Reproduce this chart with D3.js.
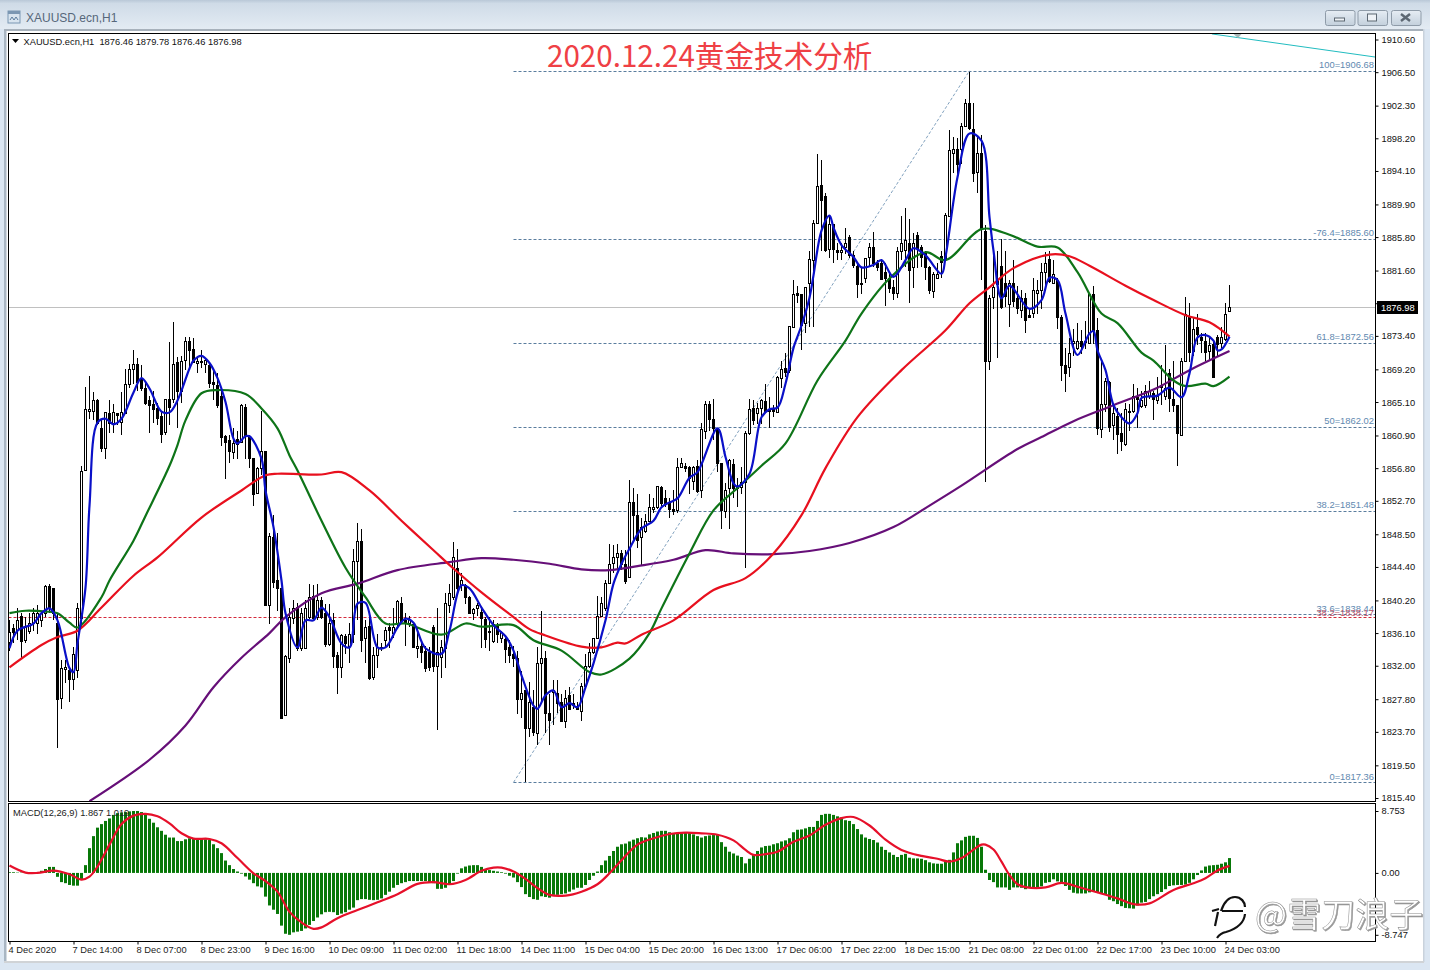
<!DOCTYPE html>
<html>
<head>
<meta charset="utf-8">
<script src="https://cdnjs.cloudflare.com/ajax/libs/d3/7.8.5/d3.min.js"></script>
<style>
  html, body { margin: 0; padding: 0; background: #fff; overflow: hidden; }
  text { font-family: "Liberation Sans", Arial, sans-serif; }
  .tick text { font-family: "Liberation Sans", Arial, sans-serif; }
</style>
</head>
<body>
<div id="screen"></div>
<script>
var opens = [
  1834.9,1836.7,1836.4,1838.3,1835.2,1836.4,1837.3,1837.4,1837.7,1838.6,
  1842.0,1841.7,1837.4,1827.9,1831.5,1831.5,1830.4,1831.4,1838.1,1856.5,
  1864.0,1864.0,1865.4,1861.9,1859.3,1863.7,1862.4,1863.7,1862.5,1863.8,
  1867.4,1869.3,1869.9,1868.1,1866.9,1865.3,1864.9,1864.4,1863.4,1861.3,
  1865.5,1865.5,1870.1,1866.5,1870.3,1872.7,1871.7,1870.1,1870.3,1869.9,
  1869.7,1867.6,1867.2,1865.9,1860.8,1860.3,1858.9,1860.5,1860.0,1864.5,
  1860.8,1858.1,1853.6,1856.8,1859.0,1839.7,1848.1,1842.7,1841.7,1825.8,
  1833.0,1838.1,1839.4,1834.2,1834.3,1838.1,1840.7,1838.1,1840.2,1838.6,
  1834.8,1837.7,1833.3,1831.8,1835.7,1834.5,1836.0,1845.2,1847.7,1835.4,
  1837.0,1830.5,1833.3,1834.3,1835.2,1836.8,1836.2,1837.3,1839.9,1837.7,
  1837.4,1837.3,1834.3,1834.5,1833.9,1833.7,1836.8,1831.9,1833.0,1834.3,
  1839.6,1840.6,1844.3,1842.1,1842.1,1840.6,1838.6,1839.2,1838.7,1837.9,
  1836.3,1835.2,1837.1,1835.5,1835.4,1834.3,1833.5,1833.0,1827.9,1828.9,
  1824.1,1826.8,1823.6,1832.4,1833.0,1826.1,1828.6,1828.6,1827.4,1825.0,
  1828.3,1827.3,1827.0,1826.4,1829.5,1832.0,1833.7,1835.5,1838.3,1839.2,
  1842.4,1844.8,1845.6,1846.2,1844.8,1843.1,1852.5,1850.9,1848.1,1849.0,
  1850.2,1851.6,1851.9,1854.4,1853.0,1852.4,1851.7,1851.5,1856.9,1857.1,
  1856.9,1855.2,1857.1,1854.0,1861.5,1864.8,1863.0,1861.8,1857.4,1851.5,
  1854.3,1857.3,1854.3,1854.4,1855.0,1861.2,1864.3,1863.8,1864.4,1865.2,
  1864.2,1864.2,1863.9,1868.2,1869.4,1869.1,1874.6,1878.8,1878.6,1875.0,
  1880.0,1883.0,1887.6,1892.3,1891.0,1884.4,1887.4,1884.2,1883.9,1884.5,
  1885.8,1883.5,1882.2,1880.0,1880.7,1883.2,1884.5,1882.5,1882.6,1881.4,
  1880.7,1879.5,1878.8,1884.1,1884.1,1885.1,1882.0,1886.0,1884.5,1883.9,
  1882.0,1879.1,1880.7,1883.4,1883.2,1888.4,1896.4,1896.9,1896.9,1899.7,
  1902.6,1899.4,1893.9,1896.3,1886.6,1870.3,1878.2,1880.0,1882.2,1880.1,
  1877.5,1880.1,1878.1,1876.6,1878.1,1876.0,1876.2,1878.8,1879.1,1881.4,
  1883.1,1880.1,1880.4,1875.8,1869.8,1869.4,1872.5,1871.8,1872.7,1872.8,
  1872.6,1878.7,1874.1,1861.8,1864.9,1867.6,1862.2,1863.4,1861.2,1859.8,
  1864.0,1863.9,1865.7,1864.7,1864.7,1865.9,1866.2,1865.3,1867.2,1865.9,
  1868.7,1865.5,1864.7,1861.0,1870.3,1875.8,1871.6,1874.5,1873.2,1872.8,
  1871.6,1872.4,1873.3,1872.4,1873.1,1876.46
];
var highs = [
  1837.7,1837.3,1839.2,1838.6,1838.1,1838.6,1839.2,1839.6,1838.9,1842.1,
  1842.3,1841.8,1838.6,1832.7,1832.7,1831.8,1834.3,1839.9,1857.1,1867.0,
  1868.4,1866.3,1865.5,1863.0,1863.8,1865.4,1864.8,1863.7,1866.3,1869.3,
  1869.9,1871.6,1870.6,1869.7,1867.8,1865.9,1866.5,1865.0,1863.8,1865.5,
  1872.6,1875.2,1870.7,1870.9,1873.2,1873.3,1873.1,1870.7,1871.6,1870.6,
  1870.1,1869.3,1868.7,1866.5,1860.9,1860.9,1861.9,1861.5,1864.9,1864.9,
  1860.9,1858.1,1856.9,1864.0,1859.0,1848.6,1850.9,1848.6,1841.7,1833.3,
  1839.2,1840.2,1839.9,1839.3,1840.2,1842.3,1842.1,1842.3,1840.6,1839.8,
  1839.8,1838.6,1833.7,1836.0,1836.0,1837.4,1846.7,1849.9,1849.2,1837.7,
  1838.1,1834.3,1836.0,1834.8,1836.8,1837.4,1839.3,1840.2,1840.6,1838.6,
  1838.3,1837.4,1836.8,1834.8,1834.5,1834.3,1837.1,1839.3,1835.2,1841.1,
  1842.3,1847.5,1846.6,1843.6,1842.3,1840.8,1839.3,1839.9,1839.3,1838.1,
  1838.1,1837.7,1837.4,1836.4,1835.5,1835.2,1834.5,1833.9,1831.4,1828.9,
  1829.9,1828.9,1834.3,1838.9,1833.9,1828.5,1830.2,1830.2,1828.5,1828.9,
  1829.3,1828.5,1827.4,1829.8,1833.5,1834.9,1835.5,1840.8,1840.6,1842.7,
  1847.3,1847.1,1847.3,1846.5,1846.5,1855.3,1854.3,1853.6,1850.6,1851.1,
  1853.6,1853.0,1854.6,1854.6,1854.0,1853.0,1854.0,1858.1,1858.1,1857.5,
  1857.1,1857.1,1857.8,1862.5,1865.2,1865.2,1865.5,1861.9,1857.5,1854.9,
  1858.0,1857.9,1855.6,1856.9,1861.5,1865.5,1865.3,1865.0,1865.5,1867.4,
  1865.7,1864.7,1868.4,1870.3,1871.2,1874.7,1880.4,1879.6,1878.7,1879.5,
  1884.1,1887.9,1896.2,1895.5,1891.3,1888.5,1887.5,1885.1,1885.1,1886.9,
  1886.0,1884.1,1882.5,1882.0,1883.2,1885.1,1886.5,1882.9,1882.9,1882.6,
  1881.4,1880.4,1884.5,1888.5,1889.5,1888.1,1886.3,1886.4,1884.8,1884.1,
  1882.2,1881.4,1882.5,1884.1,1888.8,1899.3,1898.4,1898.2,1900.1,1903.1,
  1906.5,1902.6,1898.6,1898.6,1887.3,1878.5,1884.1,1884.1,1885.6,1884.1,
  1880.4,1882.9,1879.7,1879.1,1878.8,1876.6,1880.7,1880.4,1882.6,1883.9,
  1884.1,1882.9,1880.7,1876.0,1871.9,1873.1,1874.3,1875.0,1874.1,1875.3,
  1878.8,1879.7,1875.7,1870.1,1868.1,1867.8,1864.9,1864.3,1863.7,1865.0,
  1864.9,1867.4,1866.9,1866.5,1867.2,1867.8,1866.5,1868.2,1869.7,1872.2,
  1869.3,1870.3,1864.7,1870.6,1878.3,1877.5,1875.8,1876.2,1873.8,1873.8,
  1873.1,1872.8,1873.5,1874.5,1877.5,1879.78
];
var lows = [
  1833.9,1834.8,1835.2,1832.9,1834.8,1836.0,1836.4,1836.0,1836.8,1838.1,
  1838.6,1837.7,1821.7,1826.6,1829.8,1827.4,1828.9,1830.4,1836.8,1856.5,
  1863.0,1862.8,1862.2,1858.8,1858.0,1861.2,1861.2,1862.2,1860.9,1863.7,
  1866.9,1867.4,1866.5,1866.5,1864.7,1861.2,1862.5,1862.2,1859.9,1860.9,
  1862.2,1865.0,1861.8,1865.0,1869.1,1869.1,1870.1,1868.8,1869.4,1868.8,
  1866.9,1865.3,1864.4,1859.6,1855.5,1857.5,1858.0,1858.0,1859.9,1858.0,
  1856.8,1852.1,1853.6,1855.9,1839.7,1837.3,1841.8,1838.9,1825.4,1825.8,
  1832.4,1837.3,1833.9,1833.9,1834.2,1837.9,1837.7,1837.7,1837.9,1834.3,
  1834.5,1831.7,1828.5,1830.5,1833.5,1832.4,1834.8,1837.7,1833.7,1832.3,
  1830.2,1830.2,1831.7,1833.9,1834.2,1834.2,1835.5,1836.8,1837.3,1834.5,
  1836.8,1834.2,1833.0,1832.3,1831.2,1831.4,1831.2,1823.9,1830.5,1831.7,
  1838.6,1840.2,1841.1,1841.4,1839.8,1838.6,1837.7,1838.3,1834.2,1834.2,
  1833.9,1834.9,1834.8,1834.8,1832.4,1832.3,1831.8,1826.0,1825.5,1817.4,
  1823.0,1823.2,1822.0,1827.6,1823.5,1822.1,1824.5,1826.1,1824.9,1824.2,
  1826.6,1826.6,1826.4,1825.1,1829.3,1831.7,1833.5,1835.4,1838.1,1838.9,
  1842.3,1843.6,1844.2,1844.0,1842.3,1843.0,1847.7,1846.8,1844.6,1848.6,
  1850.0,1851.2,1851.7,1852.1,1851.9,1850.6,1850.9,1851.2,1856.8,1856.3,
  1853.6,1854.0,1853.7,1853.0,1860.5,1861.5,1860.3,1856.3,1849.2,1850.6,
  1849.2,1853.1,1851.9,1853.6,1844.3,1860.9,1862.2,1862.4,1862.4,1863.7,
  1861.9,1863.2,1863.7,1866.9,1868.2,1868.7,1874.5,1877.5,1871.6,1873.7,
  1874.5,1874.5,1887.5,1884.1,1883.9,1883.2,1882.5,1882.9,1882.9,1883.7,
  1883.2,1881.9,1878.2,1878.7,1880.0,1882.0,1882.0,1881.6,1880.4,1877.2,
  1878.8,1877.9,1878.1,1882.9,1882.0,1877.5,1879.4,1881.9,1882.0,1880.4,
  1878.7,1878.2,1880.7,1880.7,1882.9,1888.3,1893.9,1893.2,1895.0,1899.6,
  1899.2,1892.7,1891.3,1880.4,1855.0,1869.1,1876.8,1870.6,1876.8,1877.0,
  1874.5,1877.0,1876.2,1875.7,1873.8,1875.6,1875.7,1876.2,1876.8,1879.1,
  1880.0,1880.0,1874.3,1867.8,1866.3,1868.2,1870.9,1871.6,1871.1,1871.8,
  1872.4,1872.4,1860.9,1860.6,1863.8,1861.3,1860.3,1858.6,1859.0,1859.6,
  1861.5,1863.7,1861.9,1864.4,1864.4,1865.5,1862.8,1864.9,1864.7,1865.3,
  1863.8,1863.8,1857.1,1860.9,1870.1,1870.1,1870.9,1872.2,1871.2,1870.3,
  1870.3,1868.2,1870.9,1871.9,1872.8,1876.46
];
var closes = [
  1836.2,1836.2,1837.7,1835.2,1836.8,1837.4,1838.6,1838.6,1838.6,1842.0,
  1839.2,1838.6,1827.9,1831.7,1831.8,1830.4,1833.5,1839.2,1856.5,1864.2,
  1864.2,1865.4,1862.5,1859.4,1863.8,1862.5,1863.8,1863.5,1863.8,1867.4,
  1869.3,1869.9,1867.6,1866.9,1865.0,1864.7,1864.3,1863.2,1861.2,1865.5,
  1864.5,1869.9,1866.4,1870.3,1872.7,1871.6,1870.1,1870.3,1870.2,1870.4,
  1867.4,1867.3,1864.7,1860.8,1860.1,1858.9,1860.0,1859.9,1864.7,1860.8,
  1858.0,1853.6,1856.8,1858.9,1839.7,1848.3,1842.4,1841.7,1825.4,1833.2,
  1838.1,1839.3,1834.3,1838.6,1839.3,1840.6,1837.9,1840.2,1838.1,1834.7,
  1837.4,1833.2,1831.8,1835.8,1834.8,1836.0,1845.2,1847.7,1835.3,1836.8,
  1830.5,1833.3,1834.3,1834.2,1836.5,1836.4,1836.9,1840.1,1837.7,1837.4,
  1837.9,1834.4,1834.5,1833.8,1831.8,1831.8,1831.9,1833.7,1834.3,1839.9,
  1841.1,1845.6,1841.8,1842.7,1840.6,1838.6,1839.1,1839.6,1837.9,1835.4,
  1836.2,1837.3,1836.0,1836.2,1834.2,1833.3,1833.0,1827.9,1828.6,1824.1,
  1827.4,1823.6,1832.4,1833.0,1826.1,1825.2,1828.9,1827.4,1825.0,1827.9,
  1826.6,1827.0,1826.6,1829.5,1832.0,1833.7,1835.5,1838.3,1839.9,1842.4,
  1844.8,1845.6,1846.1,1844.8,1842.7,1852.5,1850.9,1847.7,1849.4,1850.2,
  1851.9,1851.9,1854.5,1852.4,1852.4,1851.7,1851.5,1856.9,1857.4,1856.8,
  1855.5,1857.0,1854.0,1861.7,1864.9,1862.9,1861.9,1857.4,1851.5,1854.1,
  1857.8,1854.3,1854.6,1855.0,1861.2,1864.2,1862.8,1864.4,1865.4,1864.0,
  1863.9,1863.9,1868.3,1869.3,1868.9,1874.6,1878.7,1878.5,1874.7,1879.5,
  1883.0,1887.6,1892.2,1890.4,1884.2,1887.5,1884.2,1883.9,1884.2,1885.0,
  1883.5,1882.2,1880.0,1879.9,1883.2,1884.5,1882.5,1882.0,1880.6,1880.7,
  1879.5,1878.8,1884.1,1885.1,1885.4,1881.7,1885.0,1884.4,1883.2,1882.0,
  1879.1,1881.2,1881.2,1882.6,1888.6,1896.7,1896.9,1895.0,1899.8,1902.6,
  1899.4,1893.9,1896.3,1886.9,1870.3,1878.2,1879.5,1880.6,1877.0,1878.5,
  1880.1,1877.9,1876.8,1878.1,1875.3,1875.7,1879.1,1879.2,1881.4,1882.5,
  1880.4,1881.2,1875.8,1869.8,1868.8,1871.2,1872.7,1872.7,1872.1,1872.7,
  1878.7,1874.1,1861.8,1864.9,1867.8,1861.9,1863.7,1861.2,1860.2,1864.2,
  1863.9,1865.8,1865.5,1865.4,1866.5,1866.5,1865.4,1865.8,1866.9,1866.9,
  1865.5,1864.7,1861.2,1870.3,1876.2,1871.4,1874.3,1873.6,1872.8,1871.4,
  1872.3,1868.2,1872.4,1873.2,1876.2,1876.98
];

// moving averages read at the bars where they bend
var blueBars = [0,2,6,8,10,12,15,16,17,19,20,22,24,26,28,31,33,35,38,40,42,45,46,48,50,52,54,56,57,59,60,63,64,66,68,69,72,74,76,78,80,83,85,87,89,92,94,97,99,101,104,108,110,113,115,118,121,124,126,128,131,132,134,136,138,140,142,144,146,149,151,153,155,158,161,163,165,167,170,172,177,179,181,182,185,188,190,192,194,196,198,200,201,203,205,206,208,211,213,216,218,221,224,226,229,233,234,237,240,243,245,246,248,250,255,258,260,262,264,267,270,271,272,274,276,278,280,282,283,287,290,293,295,297,299,301,302,303,305];
var blueMA = [1834.2,1836.4,1837.3,1838.6,1839.2,1837.7,1831.7,1831.2,1834.8,1841.8,1852.1,1862.5,1863.0,1862.3,1863.0,1866.3,1868.1,1866.8,1863.9,1863.8,1865.3,1869.3,1870.3,1870.9,1870.0,1868.1,1865.1,1860.5,1859.9,1860.8,1860.8,1858.0,1854.0,1849.4,1842.7,1838.6,1834.3,1837.7,1837.7,1839.3,1838.1,1834.8,1834.3,1839.8,1839.9,1834.3,1834.3,1836.8,1837.9,1837.4,1834.2,1833.5,1836.4,1842.1,1841.7,1839.3,1837.1,1835.7,1833.9,1830.8,1827.0,1826.6,1828.3,1828.9,1826.8,1827.3,1826.8,1829.3,1832.3,1837.7,1842.3,1844.8,1846.7,1849.2,1850.2,1851.9,1852.5,1853.0,1855.6,1856.3,1861.8,1858.2,1854.9,1854.5,1856.1,1863.2,1864.2,1864.4,1867.4,1871.9,1874.7,1878.2,1881.0,1886.6,1888.5,1887.0,1884.8,1883.3,1882.0,1882.3,1882.9,1880.8,1882.9,1884.4,1883.5,1881.2,1883.3,1893.3,1898.8,1897.9,1888.3,1884.1,1878.1,1879.7,1876.8,1877.9,1880.7,1880.4,1876.2,1871.0,1873.7,1874.0,1871.6,1869.1,1864.7,1863.2,1862.4,1863.7,1865.6,1865.9,1866.9,1865.7,1868.7,1873.2,1873.5,1872.8,1871.6,1871.7,1873.3];

var greenBars = [0,4,9,12,15,17,23,25,31,34,40,42,44,48,52,59,63,67,70,72,78,84,89,94,99,108,114,118,126,131,138,145,148,155,160,163,170,176,182,188,194,202,209,213,220,229,234,243,250,257,262,267,273,277,283,286,291,294,299,301,305];
var greenMA = [1838.6,1838.9,1838.8,1838.6,1837.4,1836.8,1840.6,1842.7,1847.7,1850.8,1857.1,1859.7,1862.8,1866.2,1866.6,1866.1,1864.3,1861.8,1858.4,1856.5,1850.2,1844.3,1840.6,1837.3,1837.3,1835.9,1837.3,1836.9,1837.1,1835.2,1833.9,1831.2,1830.9,1832.9,1836.1,1839.2,1846.1,1851.5,1854.3,1857.1,1859.9,1867.8,1872.8,1876.2,1880.6,1883.9,1882.9,1886.8,1886.1,1884.6,1884.5,1881.4,1876.2,1875.0,1871.3,1870.3,1867.8,1867.1,1867.4,1867.1,1868.3];

var redBars = [0,8,12,17,23,31,37,48,58,64,67,78,83,90,98,106,111,118,126,130,134,143,148,152,154,158,166,176,184,191,198,204,212,223,234,240,245,251,260,265,270,279,286,294,300,305];
var redMA = [1831.8,1834.6,1835.6,1836.4,1839.3,1843.3,1845.6,1850.6,1854.0,1855.9,1856.1,1856.0,1856.3,1854.0,1850.2,1846.5,1844.2,1841.2,1838.1,1836.6,1835.8,1834.4,1834.3,1834.9,1834.8,1835.9,1837.7,1841.5,1843.0,1846.1,1850.9,1856.8,1863.2,1869.1,1874.1,1877.5,1879.5,1881.9,1883.6,1883.4,1882.2,1879.7,1877.9,1876.0,1875.1,1873.3];

var purpleBars = [20,35,44,51,58,65,69,78,87,97,110,118,126,135,143,150,157,166,174,181,191,200,210,221,230,238,252,258,266,276,287,295,305];
var purpleMA = [1815.0,1820.2,1824.5,1829.3,1833.0,1836.1,1838.1,1841.1,1842.3,1844.0,1845.0,1845.5,1845.3,1844.8,1844.1,1844.0,1844.5,1845.3,1846.5,1846.1,1846.0,1846.4,1847.4,1849.4,1852.1,1854.6,1859.2,1860.7,1862.7,1864.7,1866.9,1869.1,1871.5];

var macdHist = [
  0.1,0.1,0.05,0.05,0.02,-0.02,0.02,0.05,0.3,0.55,
  0.85,0.85,-0.55,-1.3,-1.45,-1.7,-1.8,-1.8,-0.85,1.1,
  3.5,5.2,6.4,6.9,7.35,7.7,8.2,8.45,8.55,8.6,
  8.7,8.75,8.75,8.6,8.3,7.65,7.1,6.45,5.95,5.4,
  5.0,5.0,4.5,4.5,4.75,4.9,4.9,4.9,4.9,4.75,
  4.65,4.05,3.5,2.8,1.75,1.1,0.55,0.2,-0.1,-0.5,
  -0.95,-1.45,-1.9,-2.05,-3.35,-4.6,-5.2,-5.8,-7.45,-8.6,
  -8.75,-8.4,-8.3,-8.2,-7.85,-7.35,-6.8,-6.3,-5.85,-5.55,
  -5.5,-5.55,-5.95,-5.75,-5.55,-5.2,-4.9,-3.85,-3.7,-3.7,
  -3.8,-3.85,-3.8,-3.6,-3.1,-2.65,-2.1,-1.7,-1.45,-1.3,
  -1.15,-1.15,-1.15,-1.15,-1.15,-1.3,-1.45,-2.25,-2.25,-2.1,
  -1.7,-1.15,-0.1,0.65,0.9,1.05,1.1,1.1,0.85,0.55,
  0.4,0.3,0.2,0.1,-0.1,-0.4,-0.65,-1.3,-2.0,-3.0,
  -3.4,-3.7,-3.8,-3.3,-3.4,-3.5,-3.1,-3.1,-3.0,-2.9,
  -2.65,-2.35,-2.1,-2.1,-1.7,-1.0,-0.4,0.2,1.1,1.75,
  2.4,3.1,3.7,4.05,4.15,4.45,4.7,4.9,5.05,5.0,
  5.45,5.65,5.85,5.95,5.95,5.75,5.6,5.6,5.6,5.75,
  5.75,5.45,5.2,5.0,5.2,5.3,5.35,5.45,4.35,3.7,
  3.0,2.75,2.45,2.25,1.35,2.0,2.55,3.1,3.6,3.8,
  3.85,4.05,4.2,4.45,4.6,4.9,5.75,6.1,6.15,6.3,
  6.5,6.5,7.35,8.2,8.35,8.35,8.2,8.0,7.85,7.45,
  7.35,6.9,6.2,5.45,5.0,4.8,4.65,4.3,3.7,3.25,
  2.9,2.55,2.25,2.55,2.7,2.15,2.05,2.05,2.0,1.8,
  1.5,1.35,1.3,1.3,1.6,1.85,2.9,4.2,4.6,5.1,
  5.25,5.25,4.95,3.7,0.45,-1.0,-1.3,-2.05,-2.05,-2.05,
  -2.4,-2.05,-2.05,-2.1,-2.3,-2.1,-2.1,-2.05,-1.9,-1.4,
  -1.3,-0.9,-1.2,-1.4,-1.85,-2.4,-2.8,-2.9,-2.9,-2.9,
  -2.75,-2.6,-2.7,-2.9,-3.0,-3.8,-4.0,-4.4,-4.7,-4.95,
  -5.0,-5.05,-4.6,-4.2,-4.1,-3.7,-3.3,-3.0,-2.7,-2.3,
  -1.85,-1.75,-1.7,-1.7,-1.65,-1.4,-0.9,-0.3,0.35,0.9,
  1.05,1.1,1.15,1.3,1.5,2.1
];
var signalBars = [0,4,7,11,15,18,20,22,25,28,31,34,37,40,43,46,50,53,57,61,64,67,70,73,76,78,82,87,92,97,102,106,110,114,118,121,123,126,129,132,135,139,143,147,150,153,157,161,165,169,173,177,181,184,186,189,192,196,200,204,208,211,215,219,223,228,232,235,238,241,243,244,246,248,250,252,254,259,263,267,272,277,281,285,291,296,299,302,305];
var signalLine = [1.04,0.05,0,0.33,-0.19,-0.94,-0.52,0.9,4,6.9,8.1,8.35,8,7,5.6,4.85,4.8,4.2,2.1,-0.05,-1.15,-2.65,-5.5,-7,-7.9,-7.7,-6.4,-5.25,-4.15,-3,-1.55,-1.3,-1.6,-1,0.3,0.75,0.75,0.2,-0.85,-2.15,-3.1,-3.2,-2.65,-1.6,-0.05,1.8,4,4.9,5.5,5.7,5.6,5.4,4.6,3.25,2.55,2.65,3,4.4,5.3,6.8,7.75,7.9,6.7,4.7,3.25,2.4,2,1.6,2.1,3.3,4,4,3.3,1.6,-0.3,-1.6,-2,-2.05,-1.4,-1.95,-2.75,-3.6,-4.4,-4.3,-2.4,-1.45,-0.75,0.35,1];

var priceTicks = [1910.6,1906.5,1902.3,1898.2,1894.1,1889.9,1885.8,1881.6,1877.5,1873.4,1869.2,1865.1,1860.9,1856.8,1852.7,1848.5,1844.4,1840.2,1836.1,1832.0,1827.8,1823.7,1819.5,1815.4];
var macdTicks = [8.753, 0, -8.747];
var timeTickBars = [0,16,32,48,64,80,96,112,128,144,160,176,192,208,224,240,256,272,288,304];
var timeLabels = ['4 Dec 2020','7 Dec 14:00','8 Dec 07:00','8 Dec 23:00','9 Dec 16:00','10 Dec 09:00','11 Dec 02:00','11 Dec 18:00','14 Dec 11:00','15 Dec 04:00','15 Dec 20:00','16 Dec 13:00','17 Dec 06:00','17 Dec 22:00','18 Dec 15:00','21 Dec 08:00','22 Dec 01:00','22 Dec 17:00','23 Dec 10:00','24 Dec 03:00'];

var fibLevels = [1906.68,1885.60,1872.56,1862.02,1851.48,1838.44,1817.36];
var fibLabels = ['100=1906.68','-76.4=1885.60','61.8=1872.56','50=1862.02','38.2=1851.48','33.6=1838.44','0=1817.36'];
var fibStartBar = 126;
var fibTrendBars = [126, 240];
var fibTrendPrices = [1817.36, 1906.68];
var redLevel = 1838.17;
var redLevelLabel = '38.2=1838.17';
var cyanBars = [300.6, 341.4];
var cyanPrices = [1911.3, 1908.4];
var bidPrice = 1876.98;

var W = 1430, H = 970;
var paneLeft = 8.5, paneRight = 1375.5, mainTop = 33.5, mainBottom = 801.5, macdTop = 803.5, macdBottom = 941.5;

var svg = d3.select('#screen').append('svg').attr('width', W).attr('height', H).style('display', 'block');

var x = d3.scaleLinear().domain([0, 305]).range([9.5, 1229.5]);
var y = d3.scaleLinear().domain([1815.4, 1910.6]).range([798, 39.5]);
var yMacd = d3.scaleLinear().domain([-8.747, 8.753]).range([934.8, 811]);

function drawWindow() {
  var defs = svg.append('defs');
  var bar = defs.append('linearGradient').attr('id', 'titleBar').attr('x1', 0).attr('y1', 0).attr('x2', 0).attr('y2', 1);
  bar.append('stop').attr('offset', '0%').attr('stop-color', '#b9c8d7');
  bar.append('stop').attr('offset', '12%').attr('stop-color', '#cfdbe7');
  bar.append('stop').attr('offset', '100%').attr('stop-color', '#e3ebf3');
  var btn = defs.append('linearGradient').attr('id', 'btn').attr('x1', 0).attr('y1', 0).attr('x2', 0).attr('y2', 1);
  btn.append('stop').attr('offset', '0%').attr('stop-color', '#e6edf4');
  btn.append('stop').attr('offset', '100%').attr('stop-color', '#c3d0dc');
  defs.append('clipPath').attr('id', 'mainClip').append('rect')
    .attr('x', paneLeft).attr('y', mainTop).attr('width', paneRight - paneLeft).attr('height', mainBottom - mainTop);
  defs.append('clipPath').attr('id', 'macdClip').append('rect')
    .attr('x', paneLeft).attr('y', macdTop).attr('width', paneRight - paneLeft).attr('height', macdBottom - macdTop);

  svg.append('rect').attr('width', W).attr('height', H).attr('fill', '#dbe6f2');
  svg.append('rect').attr('x', 6).attr('y', 29).attr('width', 1417).attr('height', 932).attr('fill', '#fff');
  svg.append('rect').attr('width', W).attr('height', 29).attr('fill', 'url(#titleBar)');
  svg.append('rect').attr('x', 4).attr('y', 29).attr('width', 2.5).attr('height', 932).attr('fill', '#a9b6c3');
  svg.append('rect').attr('x', 4).attr('y', 29).attr('width', 1420).attr('height', 2).attr('fill', '#a7b1bb');
  svg.append('rect').attr('x', 1423).attr('y', 29).attr('width', 1.5).attr('height', 933).attr('fill', '#c9d2dc');
  svg.append('rect').attr('x', 4).attr('y', 961).attr('width', 1420).attr('height', 2).attr('fill', '#d0d3d6');

  // title icon
  svg.append('rect').attr('x', 8).attr('y', 11).attr('width', 12).attr('height', 12).attr('fill', '#d8e4ef').attr('stroke', '#7b97b3');
  svg.append('rect').attr('x', 8).attr('y', 11).attr('width', 12).attr('height', 3).attr('fill', '#7b97b3');
  svg.append('path').attr('d', 'M10 20 L12 17 L14 20 L16 17 L18 20').attr('fill', 'none').attr('stroke', '#5c7d9e');
  svg.append('text').attr('x', 26).attr('y', 22).attr('font-size', 12).attr('fill', '#56677a').text('XAUUSD.ecn,H1');

  var buttons = [1325, 1357.5, 1391];
  svg.selectAll('rect.winbtn').data(buttons).enter().append('rect')
    .attr('class', 'winbtn')
    .attr('x', function(d) { return d + 0.5; }).attr('y', 10.5)
    .attr('width', 29.5).attr('height', 15).attr('rx', 2)
    .attr('fill', 'url(#btn)').attr('stroke', '#8e9ba8');
  svg.append('rect').attr('x', 1334.5).attr('y', 18).attr('width', 10).attr('height', 3).attr('fill', '#eef2f6').attr('stroke', '#5d6873');
  svg.append('rect').attr('x', 1367.5).attr('y', 14).attr('width', 9).attr('height', 7).attr('fill', '#eef2f6').attr('stroke', '#5d6873');
  svg.append('path').attr('d', 'M1401 14 L1410 21 M1410 14 L1401 21').attr('stroke', '#5d6873').attr('stroke-width', 2.4);
}

function drawFib() {
  var g = svg.append('g').attr('clip-path', 'url(#mainClip)');
  g.selectAll('line.fib').data(fibLevels).enter().append('line')
    .attr('class', 'fib')
    .attr('x1', x(fibStartBar)).attr('x2', paneRight)
    .attr('y1', function(d) { return Math.round(y(d)) + 0.5; })
    .attr('y2', function(d) { return Math.round(y(d)) + 0.5; })
    .attr('stroke', '#5a7d9e').attr('stroke-dasharray', '3,2');

  var trend = d3.line().x(function(d) { return x(d[0]); }).y(function(d) { return y(d[1]); });
  g.append('path').attr('d', trend(d3.zip(fibTrendBars, fibTrendPrices)))
    .attr('fill', 'none').attr('stroke', '#6189ad').attr('stroke-width', 0.8).attr('stroke-dasharray', '3,2');

  g.append('path').attr('d', trend(d3.zip(cyanBars, cyanPrices)))
    .attr('fill', 'none').attr('stroke', '#22bcc0');
  g.append('path').attr('d', 'M1233 33.5 L1242 33.5 L1238 38 Z').attr('fill', '#a8b8b8');

  g.append('line').attr('x1', paneLeft).attr('x2', paneRight)
    .attr('y1', Math.round(y(redLevel)) + 0.5).attr('y2', Math.round(y(redLevel)) + 0.5)
    .attr('stroke', '#d42a3c').attr('stroke-dasharray', '3,2');

  g.append('line').attr('x1', paneLeft).attr('x2', paneRight)
    .attr('y1', Math.round(y(bidPrice)) + 0.5).attr('y2', Math.round(y(bidPrice)) + 0.5)
    .attr('stroke', '#c0c0c0');

  svg.selectAll('text.fibLabel').data(fibLabels).enter().append('text')
    .attr('class', 'fibLabel')
    .attr('x', 1374).attr('text-anchor', 'end')
    .attr('y', function(d, i) { return y(fibLevels[i]) - 2.5; })
    .attr('font-size', 9.4).attr('fill', '#5f89b0')
    .text(function(d) { return d; });
  svg.append('text').attr('x', 1374).attr('text-anchor', 'end').attr('y', y(redLevel) - 0.5)
    .attr('font-size', 9.4).attr('fill', '#c4566a').text(redLevelLabel);
}

function drawCandles() {
  var g = svg.append('g').attr('clip-path', 'url(#mainClip)');
  var candles = opens.map(function(o, i) {
    return { i: i, open: o, high: highs[i], low: lows[i], close: closes[i] };
  });

  g.selectAll('line.wick').data(candles).enter().append('line')
    .attr('class', 'wick')
    .attr('x1', function(d) { return x(d.i); })
    .attr('x2', function(d) { return x(d.i); })
    .attr('y1', function(d) { return Math.round(y(d.high)); })
    .attr('y2', function(d) { return Math.round(y(d.low)); })
    .attr('stroke', '#000');

  g.selectAll('rect.body').data(candles).enter().append('rect')
    .attr('class', 'body')
    .attr('x', function(d) { return x(d.i) - 1; })
    .attr('width', 2)
    .attr('y', function(d) { return Math.round(y(Math.max(d.open, d.close))) + 0.5; })
    .attr('height', function(d) { return Math.max(1, Math.round(Math.abs(y(d.open) - y(d.close)))); })
    .attr('fill', function(d) { return d.close >= d.open ? '#fff' : '#000'; })
    .attr('stroke', '#000');
}

function drawAverages() {
  var g = svg.append('g').attr('clip-path', 'url(#mainClip)');
  var line = d3.line()
    .x(function(d) { return x(d[0]); })
    .y(function(d) { return y(d[1]); })
    .curve(d3.curveCatmullRom.alpha(0.5));
  var series = [
    { bars: purpleBars, values: purpleMA, color: '#660f78' },
    { bars: greenBars, values: greenMA, color: '#0e7418' },
    { bars: redBars, values: redMA, color: '#e8101e' },
    { bars: blueBars, values: blueMA, color: '#0a10c8' }
  ];
  g.selectAll('path.ma').data(series).enter().append('path')
    .attr('class', 'ma')
    .attr('fill', 'none')
    .attr('stroke', function(d) { return d.color; })
    .attr('stroke-width', 2.2)
    .attr('d', function(d) { return line(d3.zip(d.bars, d.values)); });
}

function drawMacd() {
  var g = svg.append('g').attr('clip-path', 'url(#macdClip)');
  g.selectAll('rect.hist').data(macdHist).enter().append('rect')
    .attr('class', 'hist')
    .attr('x', function(d, i) { return x(i) - 1.5; })
    .attr('width', 3)
    .attr('y', function(d) { return Math.min(yMacd(d), yMacd(0)); })
    .attr('height', function(d) { return Math.abs(yMacd(d) - yMacd(0)); })
    .attr('fill', '#087808');
  var line = d3.line()
    .x(function(d) { return x(d[0]); })
    .y(function(d) { return yMacd(d[1]); })
    .curve(d3.curveCatmullRom.alpha(0.5));
  g.append('path').attr('d', line(d3.zip(signalBars, signalLine)))
    .attr('fill', 'none').attr('stroke', '#e6102a').attr('stroke-width', 2.2);
}

function drawFrames() {
  svg.append('rect').attr('x', paneLeft).attr('y', mainTop).attr('width', paneRight - paneLeft).attr('height', mainBottom - mainTop)
    .attr('fill', 'none').attr('stroke', '#000');
  svg.append('rect').attr('x', paneLeft).attr('y', macdTop).attr('width', paneRight - paneLeft).attr('height', macdBottom - macdTop)
    .attr('fill', 'none').attr('stroke', '#000');

  var priceAxis = d3.axisRight(y).tickValues(priceTicks).tickSize(3).tickPadding(3)
    .tickFormat(function(d) { return d.toFixed(2); });
  var gp = svg.append('g').attr('transform', 'translate(' + paneRight + ',0)').call(priceAxis);

  var macdAxis = d3.axisRight(yMacd).tickValues(macdTicks).tickSize(3).tickPadding(3)
    .tickFormat(function(d) { return d === 0 ? '0.00' : d.toFixed(3); });
  var gm = svg.append('g').attr('transform', 'translate(' + paneRight + ',0)').call(macdAxis);

  var timeAxis = d3.axisBottom(x).tickValues(timeTickBars).tickSize(3).tickPadding(2)
    .tickFormat(function(d, i) { return timeLabels[i]; });
  var gt = svg.append('g').attr('transform', 'translate(0,' + macdBottom + ')').call(timeAxis);
  gt.selectAll('.tick text').attr('text-anchor', 'start').attr('dx', -1.5);

  [gp, gm, gt].forEach(function(g) {
    g.select('.domain').remove();
    g.selectAll('.tick text').attr('font-size', 9.3).attr('fill', '#111');
  });
  gt.selectAll('.tick text').attr('fill', '#222');

  // current price box
  var by = Math.round(y(bidPrice));
  svg.append('rect').attr('x', 1377).attr('y', by - 6).attr('width', 41).attr('height', 13).attr('fill', '#000');
  svg.append('text').attr('x', 1381).attr('y', by + 4).attr('font-size', 9.3).attr('fill', '#fff').text(bidPrice.toFixed(2));
}

function drawLabels() {
  svg.append('path').attr('d', 'M12 39 L19 39 L15.5 43 Z').attr('fill', '#000');
  svg.append('text').attr('x', 23.5).attr('y', 44.5).attr('font-size', 9.3).attr('fill', '#111')
    .attr('xml:space', 'preserve').style('white-space', 'pre')
    .text('XAUUSD.ecn,H1  ' + [opens[305], highs[305], lows[305], closes[305]].map(function(d) { return d.toFixed(2); }).join(' '));
  svg.append('text').attr('x', 13).attr('y', 816).attr('font-size', 9.3).attr('fill', '#222')
    .text('MACD(12,26,9) 1.867 1.019');

  svg.append('text').attr('x', 547).attr('y', 67)
    .style('font-family', '"Noto Sans CJK SC", sans-serif')
    .attr('font-size', 29.6).attr('fill', '#ef4045')
    .text('2020.12.24黄金技术分析');

  // watermark
  var mark = svg.append('g');
  mark.append('text').attr('x', 1255).attr('y', 927)
    .style('font-family', '"Noto Sans CJK SC", sans-serif')
    .style('filter', 'drop-shadow(1px 1px 0 #999)')
    .attr('font-size', 34).attr('fill', '#fff').attr('stroke', '#8c8c8c').attr('stroke-width', 0.5)
    .text('@雪刀浪子');
  mark.append('path')
    .attr('d', 'M1212 911 L1219 909 M1218 912 L1215 926 M1221 911 C1224 902 1229 897 1235 897 C1241 897 1245 902 1245 907 M1222 911 L1243 911 M1245 914 C1244 924 1236 929 1226 932 C1221 933 1219 935 1217 938')
    .attr('fill', 'none').attr('stroke', '#111').attr('stroke-width', 2.2);
}

drawWindow();
drawFib();
drawCandles();
drawAverages();
drawMacd();
drawFrames();
drawLabels();
</script>
</body>
</html>
